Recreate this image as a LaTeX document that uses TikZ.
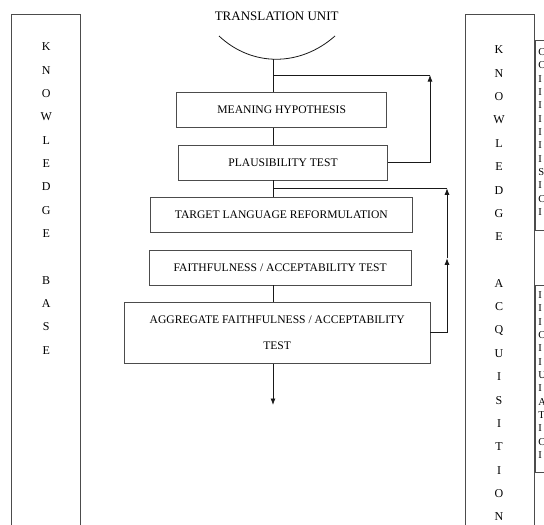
\documentclass[tikz,border=0pt]{standalone}
\usepackage{fontspec}
\setmainfont{Liberation Serif}
\usetikzlibrary{arrows.meta, positioning}

\begin{document}
\begin{tikzpicture}[
    x=1pt, y=-1pt,
    line width=0.8pt,
    box/.style={draw=black!70, minimum height=35pt, inner sep=2pt, align=center,
        font=\fontsize{11.6}{26}\selectfont},
    column/.style={draw=black!70, minimum width=69pt, minimum height=540pt, anchor=north},
    note/.style={draw=black!70, minimum width=40pt, anchor=north west},
    letter/.style={font=\fontsize{12}{14}\selectfont, inner sep=0pt},
    cut/.style={font=\fontsize{10.5}{12}\selectfont, inner sep=0pt, anchor=west},
    link/.style={draw=black!90},
    arrow/.style={-{Latex[length=6.5pt,width=5pt]}, draw=black!90}
]
\useasboundingbox (0,0) rectangle (544,525);
\clip (0,0) rectangle (544,525);

% Knowledge columns
\node[column] (kbase) at (46.2,14) {};
\node[column] (kacq) at (500,14) {};
\foreach \c [count=\i from 0] in {K,N,O,W,L,E,D,G,E,{},B,A,S,E}
    \node[letter] (kb\i) at (46.2,47+23.33*\i) {\c};
\foreach \c [count=\i from 0] in {K,N,O,W,L,E,D,G,E,{},A,C,Q,U,I,S,I,T,I,O,N}
    \node[letter] (ka\i) at (499,50+23.35*\i) {\c};

% Cut-off boxes at the right edge
\node[note, minimum height=190pt] (noteA) at (535,40) {};
\node[note, minimum height=187pt] (noteB) at (535,285) {};
\foreach \c [count=\i from 0] in {C,C,I,I,I,I,I,I,I,S,I,C,I}
    \node[cut] (na\i) at (538,52+13.33*\i) {\c};
\foreach \c [count=\i from 0] in {I,I,I,C,I,I,U,I,A,T,I,C,I}
    \node[cut] (nb\i) at (538,295+13.33*\i) {\c};

% Translation unit
\node[font=\fontsize{13}{15}\selectfont] (tu) at (276.7,16.7) {TRANSLATION UNIT};
\coordinate (cupl) at (219,36);
\coordinate (cupr) at (335,36);
\coordinate (src) at (273,59.3);
\draw[link] (cupl) .. controls (252,67) and (300,67) .. (cupr);

% Process boxes
\node[box, minimum width=210pt] (mean) at (281.7,110) {MEANING HYPOTHESIS};
\node[box, minimum width=209.4pt, minimum height=34.3pt] (plaus) at (283,162.85) {PLAUSIBILITY TEST};
\node[box, minimum width=262.7pt] (target) at (281.35,214.8) {TARGET LANGUAGE REFORMULATION};
\node[box, minimum width=261.7pt] (faith) at (280.15,267.5) {FAITHFULNESS / ACCEPTABILITY TEST};
\node[box, minimum width=305.7pt, minimum height=61pt] (agg) at (277.15,332.8) {AGGREGATE FAITHFULNESS / ACCEPTABILITY\\TEST};

% Loop points
\coordinate (split1) at (273,75);
\coordinate (back1) at (430,75);
\coordinate (split2) at (273,188.3);
\coordinate (back2) at (447,188.3);
\coordinate (mid2) at (447,258.3);
\coordinate (out) at (273,405);

% Main flow
\draw[link] (src) -- (src |- mean.north);
\draw[link] (mean.south -| src) -- (plaus.north -| src);
\draw[link] (plaus.south -| src) -- (target.north -| src);
\draw[link] (faith.south -| src) -- (agg.north -| src);
\draw[arrow] (agg.south -| src) -- (out);

% Feedback loops
\draw[link] (split1) -- (back1);
\draw[arrow] (plaus.east) -| (back1);
\draw[link] (split2) -- (back2);
\draw[arrow] (agg.east) -| (mid2);
\draw[arrow] (mid2) -- (back2);

\end{tikzpicture}
\end{document}
